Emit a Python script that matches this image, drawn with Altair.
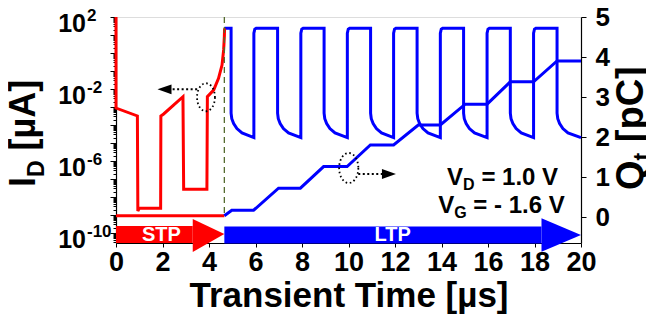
import altair as alt
import pandas as pd

FONT = "Liberation Sans"

# ---------------- data ----------------
# STP drain current (red), time [µs] and log10(I_D / µA)
red_t = [0.0, 0.0, 0.92, 0.94, 1.0, 1.92, 1.93, 2.05, 2.88, 2.91, 3.91, 3.93, 4.2, 4.41, 4.56, 4.63, 4.66, 4.67]
red_logI = [2.0, -3.06, -3.5, -8.78, -8.63, -8.63, -3.5, -3.39, -2.43, -7.57, -7.57, -2.43, -2.06, -1.41, -0.67, 0.17, 0.9, 1.37]

# LTP pulse train (blue current): read edge times and the decay shape after each fall
pulse_start = 4.66
pulse_fall = [4.95, 6.95, 8.95, 10.95, 12.95, 14.95, 16.96, 18.97]
pulse_rise = [5.93, 7.95, 9.95, 11.94, 13.95, 15.96, 17.96]
pulse_high = 1.37
decay_dt = [0.0, 0.03, 0.11, 0.25, 0.47]
decay_logI = [-3.35, -3.65, -3.92, -4.2, -4.44]
pulse_low = -4.7
rise_dt = [0.0, 0.04, 0.1]
rise_logI = [1.1, 1.32, 1.37]

# Trapped charge Q_t [pC]
q_red_t = [0.0, 4.66]
q_red = [0.03, 0.03]
q_blue_t = [4.66, 4.98, 5.92, 6.99, 7.93, 8.93, 9.94, 10.94, 11.94, 13.0, 13.95, 15.02, 15.96, 16.96, 17.96, 18.97, 20.0]
q_blue = [0.03, 0.17, 0.17, 0.72, 0.72, 1.26, 1.26, 1.8, 1.8, 2.3, 2.3, 2.82, 2.82, 3.38, 3.38, 3.9, 3.9]

boundary_t = 4.66

# left tick labels (decade exponents)
left_label_exp = [2, -2, -6, -10]
left_label_sup = ["2", "-2", "-6", "-10"]

x_ticks = [0, 2, 4, 6, 8, 10, 12, 14, 16, 18, 20]
q_ticks = [0, 1, 2, 3, 4, 5]

# ---------------- tables ----------------
red_df = pd.DataFrame({"t": red_t, "I": [10 ** v for v in red_logI]})
red_df["i"] = range(len(red_df))

bt, bl = [pulse_start], [pulse_high]
for k, tf in enumerate(pulse_fall):
    bt.append(tf); bl.append(pulse_high)
    for dt, v in zip(decay_dt, decay_logI):
        bt.append(tf + dt); bl.append(v)
    if k < len(pulse_rise):
        tr = pulse_rise[k]
        bt.append(tr); bl.append(pulse_low)
        for dt, v in zip(rise_dt, rise_logI):
            bt.append(tr + dt); bl.append(v)
    else:
        bt.append(20.0); bl.append(pulse_low)
blue_df = pd.DataFrame({"t": bt, "I": [10 ** v for v in bl]})
blue_df["i"] = range(len(blue_df))

qr_df = pd.DataFrame({"t": q_red_t, "Q": q_red})
qb_df = pd.DataFrame({"t": q_blue_t, "Q": q_blue})
qb_df["i"] = range(len(qb_df))

lab_df = pd.DataFrame({"I": [10.0 ** e for e in left_label_exp], "sup": left_label_sup})

# ---------------- scales / axes ----------------
W, H = 465, 226
xs = alt.Scale(domain=[0, 20], nice=False)
x_axis = alt.Axis(values=x_ticks, tickSize=4, tickColor="black", domainColor="black",
                  domainWidth=1.2, labelFont=FONT, labelFontSize=27, labelFontWeight="bold",
                  labelColor="black", labelPadding=2, labelFlush=False, grid=False,
                  title="Transient Time [µs]", titleFont=FONT, titleFontSize=35,
                  titleFontWeight="bold", titleColor="black", titlePadding=3)
X = alt.X("t:Q", scale=xs, axis=x_axis)

ylog_dom = [10 ** -10.56, 100.0]
yl_scale = alt.Scale(type="log", domain=ylog_dom, nice=False)
minor = []
for e in range(-11, 3):
    for m in range(1, 10):
        v = m * 10.0 ** e
        if ylog_dom[0] <= v <= ylog_dom[1] * 1.0001:
            minor.append(v)
yl_axis = alt.Axis(values=minor, labels=False, title=None, grid=False,
                   tickColor="black", domainColor="black", domainWidth=1.2,
                   tickSize={"condition": {"test": "abs(log(datum.value)/LN10 - round(log(datum.value)/LN10)) < 0.001", "value": 6}, "value": 3})
YL = alt.Y("I:Q", scale=yl_scale, axis=yl_axis)

yr_scale = alt.Scale(domain=[-0.65, 5.0], nice=False, zero=False)
yr_axis = alt.Axis(orient="right", values=q_ticks, title=None, grid=False, tickSize=5,
                   tickColor="black", domainColor="black", domainWidth=1.2,
                   labelFont=FONT, labelFontSize=26, labelFontWeight="bold",
                   labelColor="black", labelPadding=9)
YR = alt.Y("Q:Q", scale=yr_scale, axis=yr_axis)

# ---------------- left (current) layers ----------------
blue_line = alt.Chart(blue_df).mark_line(color="#0000ff", strokeWidth=3).encode(
    x=X, y=YL, order="i:Q")
red_line = alt.Chart(red_df).mark_line(color="#ff0000", strokeWidth=3).encode(
    x=X, y=YL, order="i:Q")

circ_path = ("M 0.64 0 C 0.64 0.5523 0.3535 1 0 1 C -0.3535 1 -0.64 0.5523 -0.64 0 "
             "C -0.64 -0.5523 -0.3535 -1 0 -1 C 0.3535 -1 0.64 -0.5523 0.64 0 Z")
head_left = "M -1 0 L 1 -0.7 L 1 0.7 Z"
head_right = "M 1 0 L -1 -0.7 L -1 0.7 Z"

c1 = pd.DataFrame({"t": [3.87], "I": [10 ** -2.46]})
circle1 = alt.Chart(c1).mark_point(shape=circ_path, size=784, filled=False, color="black",
                                   strokeWidth=1.8, strokeDash=[1.6, 2.6], opacity=1).encode(x=X, y=YL)
a1 = pd.DataFrame({"t": [3.49], "t2": [2.41], "I": [10 ** -2.02]})
arrow1_line = alt.Chart(a1).mark_rule(color="black", strokeWidth=2, strokeDash=[2, 2.5]).encode(
    x=X, x2="t2:Q", y=YL)
h1 = pd.DataFrame({"t": [2.085], "I": [10 ** -2.02]})
arrow1_head = alt.Chart(h1).mark_point(shape=head_left, size=196, filled=True, color="black",
                                       opacity=1).encode(x=X, y=YL)

lab_base = alt.Chart(lab_df).mark_text(font=FONT, fontSize=25, fontWeight="bold", align="right",
                                        baseline="middle", dy=7, color="black").encode(
    x=alt.value(-30), y=YL, text=alt.value("10"))
lab_sup = alt.Chart(lab_df).mark_text(font=FONT, fontSize=17, fontWeight="bold", align="left",
                                       baseline="middle", dy=-1, color="black").encode(
    x=alt.value(-29), y=YL, text="sup:N")

left = alt.layer(blue_line, red_line, circle1, arrow1_line, arrow1_head, lab_base, lab_sup)

# ---------------- right (charge) layers ----------------
q_blue_line = alt.Chart(qb_df).mark_line(color="#0000ff", strokeWidth=3).encode(x=X, y=YR, order="i:Q")
q_red_line = alt.Chart(qr_df).mark_line(color="#ff0000", strokeWidth=3).encode(x=X, y=YR)

dash_df = pd.DataFrame({"t": [boundary_t], "Q": [5.0], "Q2": [0.0]})
dash = alt.Chart(dash_df).mark_rule(color="#556b2f", strokeWidth=1.3, strokeDash=[6, 4]).encode(
    x=X, y=YR, y2="Q2:Q")

# big arrows STP / LTP
body_df = pd.DataFrame({"t": [0.0, 4.66], "t2": [3.3, 18.3], "Q": [-0.225, -0.24],
                        "Q2": [-0.65, -0.66], "c": ["STP", "LTP"]})
col = alt.Color("c:N", scale=alt.Scale(domain=["STP", "LTP"], range=["#ff0000", "#0000ff"]), legend=None)
bodies = alt.Chart(body_df).mark_rect().encode(x=X, x2="t2:Q", y=YR, y2="Q2:Q", color=col)
stp_head_df = pd.DataFrame({"t": [3.3, 4.66], "Q": [-0.05, -0.425], "Q2": [-0.875, -0.425]})
ltp_head_df = pd.DataFrame({"t": [18.3, 20.0], "Q": [-0.03, -0.45], "Q2": [-0.87, -0.45]})
stp_head = alt.Chart(stp_head_df).mark_area(color="#ff0000", opacity=1).encode(x=X, y=YR, y2="Q2:Q")
ltp_head = alt.Chart(ltp_head_df).mark_area(color="#0000ff", opacity=1).encode(x=X, y=YR, y2="Q2:Q")
arrow_txt_df = pd.DataFrame({"t": [1.95, 11.9], "Q": [-0.45, -0.45], "s": ["STP", "LTP"]})
arrow_txt = alt.Chart(arrow_txt_df).mark_text(font=FONT, fontSize=20, fontWeight="bold",
                                               color="white", baseline="middle").encode(
    x=X, y=YR, text="s:N")

c2 = pd.DataFrame({"t": [10.01], "Q": [1.225]})
circle2 = alt.Chart(c2).mark_point(shape=circ_path, size=900, filled=False, color="black",
                                   strokeWidth=1.8, strokeDash=[1.6, 2.6], opacity=1).encode(x=X, y=YR)
a2 = pd.DataFrame({"t": [10.42], "t2": [11.44], "Q": [1.075]})
arrow2_line = alt.Chart(a2).mark_rule(color="black", strokeWidth=2, strokeDash=[2, 2.5]).encode(
    x=X, x2="t2:Q", y=YR)
h2 = pd.DataFrame({"t": [11.74], "Q": [1.075]})
arrow2_head = alt.Chart(h2).mark_point(shape=head_right, size=196, filled=True, color="black",
                                       opacity=1).encode(x=X, y=YR)

# bias annotation: "V" + subscript + rest (a space is left before "=")
v_df = pd.DataFrame({"t": [14.24, 13.86], "Q": [0.8, 0.1], "sub": ["D", "G"],
                     "rest": ["= 1.0 V", "= - 1.6 V"]})
v_main = alt.Chart(v_df).mark_text(font=FONT, fontSize=24, fontWeight="bold", align="left",
                                    baseline="alphabetic", color="black").encode(
    x=X, y=YR, text=alt.value("V"))
v_sub = alt.Chart(v_df).mark_text(font=FONT, fontSize=16, fontWeight="bold", align="left",
                                   baseline="alphabetic", color="black", dx=16, dy=5).encode(
    x=X, y=YR, text="sub:N")
v_rest_d = alt.Chart(v_df.iloc[[0]]).mark_text(font=FONT, fontSize=24, fontWeight="bold", align="left",
                                                baseline="alphabetic", color="black", dx=34.3).encode(
    x=X, y=YR, text="rest:N")
v_rest_g = alt.Chart(v_df.iloc[[1]]).mark_text(font=FONT, fontSize=24, fontWeight="bold", align="left",
                                                baseline="alphabetic", color="black", dx=35.1).encode(
    x=X, y=YR, text="rest:N")

# rotated axis titles (pixel positions relative to plot origin)
def rot(text, x, y, size):
    return alt.Chart(pd.DataFrame({"a": [0]})).mark_text(
        font=FONT, fontSize=size, fontWeight="bold", align="left", baseline="alphabetic",
        angle=270, color="black", text=text).encode(x=alt.value(x), y=alt.value(y))

LS, RS, SS = 36, 38, 23
l_I = rot("I", -81, 170, LS)
l_D = rot("D", -72, 170 - 0.278 * LS, SS)
l_rest = rot("[µA]", -81, 170 - 0.278 * LS - 0.722 * SS - 0.278 * LS, LS)
r_Q = rot("Q", 527, 173, RS)
r_t = rot("t", 534, 173 - 0.778 * RS, SS)
r_rest = rot("[pC]", 527, 173 - 0.778 * RS - 0.333 * SS - 0.278 * RS, RS)

right = alt.layer(dash, q_red_line, q_blue_line, bodies, stp_head, ltp_head, arrow_txt,
                  circle2, arrow2_line, arrow2_head, v_main, v_sub, v_rest_d, v_rest_g,
                  l_I, l_D, l_rest, r_Q, r_t, r_rest)

chart = alt.layer(left, right).resolve_scale(y="independent").properties(
    width=W, height=H,
    autosize=alt.AutoSizeParams(type="none"),
    padding={"left": 108, "top": 9, "right": 65, "bottom": 71},
).configure_view(stroke="black", strokeWidth=1.2).configure(background="white")

chart.save("out.html", embed_options={"renderer": "svg", "actions": False})
